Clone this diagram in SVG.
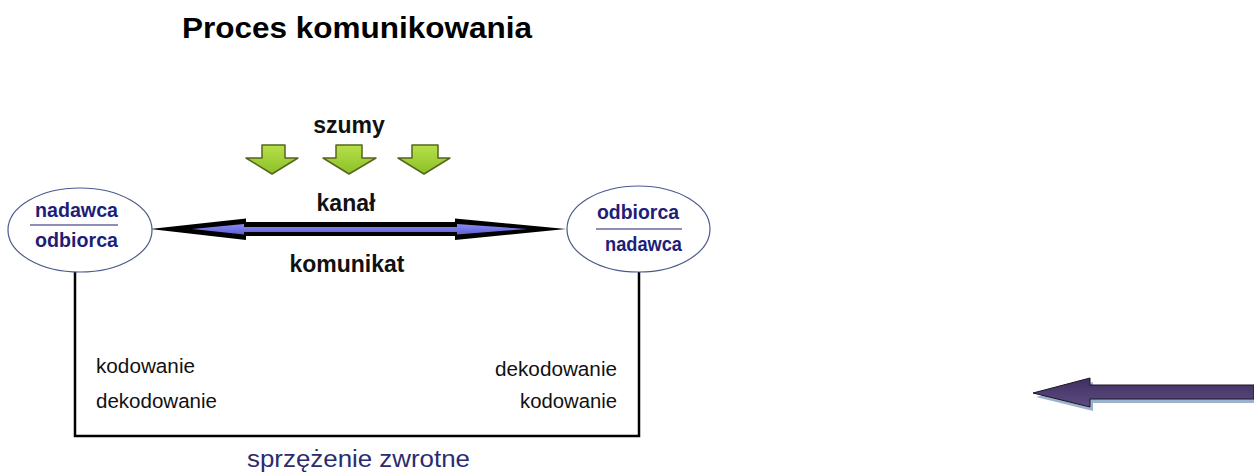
<svg xmlns="http://www.w3.org/2000/svg" width="1254" height="474" viewBox="0 0 1254 474">
<defs>
<style>
.t{font-family:"Liberation Sans",Arial,sans-serif}
.b{font-weight:bold}
.navy{fill:#1e1e78}
.lbl{font-size:20.5px;fill:#111}
.ell{fill:#fff;stroke:#4d5a8c;stroke-width:1.2}
.green{fill:url(#gg);stroke:#56661c;stroke-width:1.5;stroke-linejoin:round}
</style>
<linearGradient id="gg" x1="0" y1="0" x2="0" y2="1">
<stop offset="0" stop-color="#b6e04a"/>
<stop offset="1" stop-color="#8cc026"/>
</linearGradient>
<linearGradient id="pg" x1="0" y1="0" x2="0" y2="1">
<stop offset="0" stop-color="#3f3060"/>
<stop offset="1" stop-color="#5d4b82"/>
</linearGradient>
<linearGradient id="bg" x1="0" y1="0" x2="0" y2="1">
<stop offset="0" stop-color="#8a8af0"/>
<stop offset="1" stop-color="#5f5fd8"/>
</linearGradient>
</defs>
<rect width="1254" height="474" fill="#fff"/>
<text class="t b" x="182" y="38" font-size="30" textLength="350" lengthAdjust="spacingAndGlyphs" fill="#000">Proces komunikowania</text>

<g id="connectors">
<path d="M75 272 V436 H639 V271" fill="none" stroke="#000" stroke-width="2.5"/>
<polygon points="150,229 246,218.5 246,222 455,222 455,218.5 566,229 455,240 455,236 246,236 246,240" fill="#000"/>
<polygon points="192,229 244,224 244,227 457,227 457,224 527,229 457,234.5 457,232 244,232 244,234.5" fill="url(#bg)"/>
</g>

<g id="noise">
<polygon class="green" points="262,145 285,145 285,158 298,158 272,174 246,158 262,158"/>
<polygon class="green" points="336,145 362,145 362,158 376,158 349,174 323,158 336,158"/>
<polygon class="green" points="412,145 438,145 438,158 450,158 424,174 398,158 412,158"/>
</g>

<g id="labels">
<text class="t b" x="349" y="133" font-size="23" text-anchor="middle" fill="#111">szumy</text>
<text class="t b" x="346" y="211" font-size="23" text-anchor="middle" fill="#111">kanał</text>
<text class="t b" x="347" y="272" font-size="23" text-anchor="middle" fill="#111">komunikat</text>
<text class="t lbl" x="96" y="373" textLength="99" lengthAdjust="spacingAndGlyphs">kodowanie</text>
<text class="t lbl" x="96" y="408" textLength="121" lengthAdjust="spacingAndGlyphs">dekodowanie</text>
<text class="t lbl" x="495" y="376" textLength="122" lengthAdjust="spacingAndGlyphs">dekodowanie</text>
<text class="t lbl" x="520" y="408" textLength="97" lengthAdjust="spacingAndGlyphs">kodowanie</text>
<text class="t" x="247" y="467" font-size="23" textLength="223" lengthAdjust="spacingAndGlyphs" fill="#2b2b6e">sprzężenie zwrotne</text>
</g>

<g id="node-left">
<ellipse class="ell" cx="80" cy="230" rx="72" ry="42"/>
<text class="t b navy" x="35" y="217" font-size="20" textLength="83" lengthAdjust="spacingAndGlyphs">nadawca</text>
<line x1="30" y1="225" x2="118" y2="225" stroke="#1e1e78" stroke-width="1.2"/>
<text class="t b navy" x="35" y="247" font-size="20" textLength="83" lengthAdjust="spacingAndGlyphs">odbiorca</text>
</g>

<g id="node-right">
<ellipse class="ell" cx="638.5" cy="229" rx="71.5" ry="43"/>
<text class="t b navy" x="597" y="219" font-size="20" textLength="82" lengthAdjust="spacingAndGlyphs">odbiorca</text>
<line x1="596" y1="229" x2="682" y2="229" stroke="#1e1e78" stroke-width="1.2"/>
<text class="t b navy" x="605" y="251" font-size="20" textLength="77" lengthAdjust="spacingAndGlyphs">nadawca</text>
</g>

<g id="purple-arrow">
<polygon points="1036,397 1093,382 1093,389 1254,389 1254,403 1093,403 1093,411" fill="#9cb2cc"/>
<polygon points="1033,393 1090,378 1090,385 1254,385 1254,399 1090,399 1090,407" fill="url(#pg)" stroke="#1a1424" stroke-width="1"/>
</g>
</svg>
